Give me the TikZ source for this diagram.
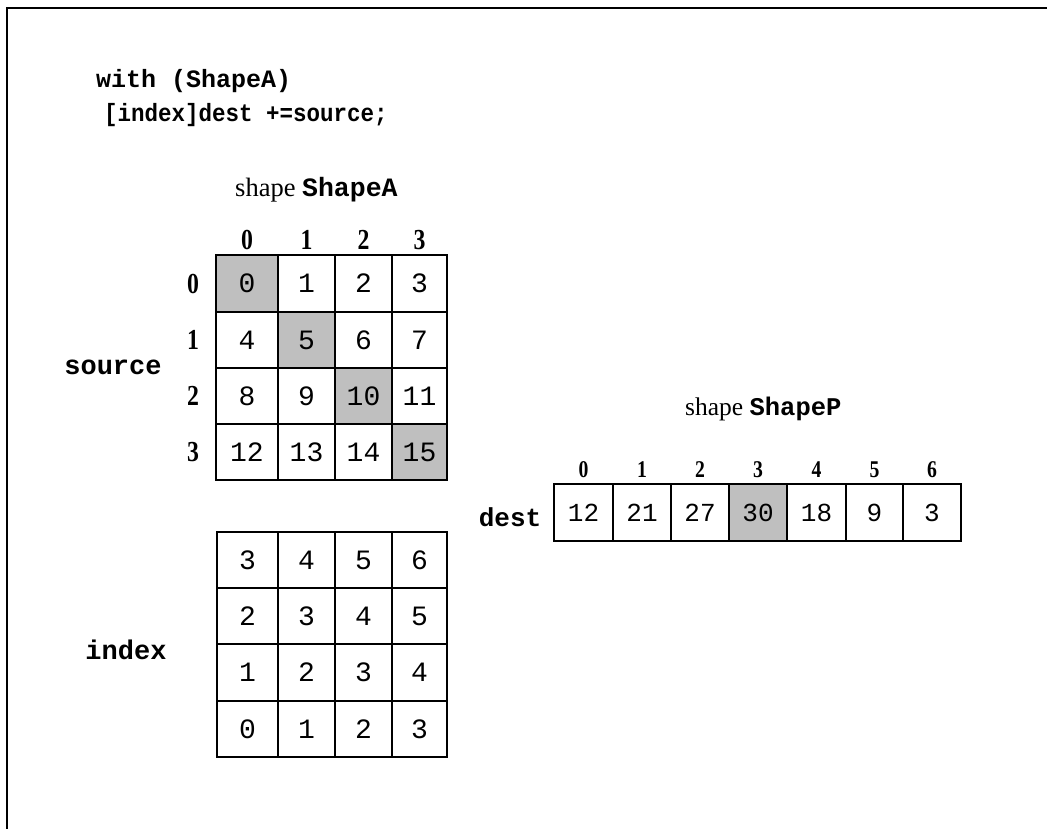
\documentclass[tikz,border=0pt]{standalone}
\usepackage{fontspec}
\setmainfont{Liberation Serif}
\setmonofont{Liberation Mono}
\newcommand{\cnd}[1]{\scalebox{0.82}[1]{#1}}
\tikzset{
  frameline/.style={line width=2pt},
  cellbase/.style={draw, line width=1.8pt, inner sep=0pt},
  cell/.style={cellbase, font=\fontsize{28}{28}\selectfont\ttfamily},
  dcell/.style={cellbase, font=\fontsize{26}{26}\selectfont\ttfamily},
  idx/.style={font=\fontsize{29}{29}\selectfont\rmfamily\bfseries, inner sep=0pt},
  didx/.style={font=\fontsize{24}{24}\selectfont\rmfamily\bfseries, inner sep=0pt},
  code/.style={font=\fontsize{25}{25}\selectfont\ttfamily\bfseries, inner sep=0pt, anchor=base west},
  lbl/.style={font=\fontsize{27}{27}\selectfont\ttfamily\bfseries, inner sep=0pt},
  ttl/.style={font=\fontsize{26.5}{26.5}\selectfont\rmfamily, inner sep=0pt, anchor=base west},
}
\begin{document}
\begin{tikzpicture}[x=1pt,y=-1pt]
\useasboundingbox (0,0) rectangle (1047,829);
\coordinate (fb) at (6.5,829);
\coordinate (fc) at (6.5,8);
\coordinate (fr) at (1047,8);
\draw[frameline] (fb) -- (fc) -- (fr);

% code
\node[code] (code1) at (96,88) {with (ShapeA)};
\node[code] (code2) at (104,122) {\scalebox{0.9}[1]{[index]dest +=source;}};

% titles
\node[ttl] (titleA) at (235,197) {shape {\ttfamily\bfseries ShapeA}};
\node[ttl, font=\fontsize{25.5}{25.5}\selectfont\rmfamily] (titleP) at (685,415) {shape {\ttfamily\bfseries ShapeP}};

% source grid
\foreach \c/\xa/\xb in {0/216/278,1/278/335,2/335/392,3/392/447}{
  \foreach \r/\ya/\yb in {0/255/312,1/312/368,2/368/424,3/424/480}{
    \pgfmathtruncatemacro\v{4*\r+\c}
    \pgfmathsetmacro\w{\xb-\xa}
    \pgfmathsetmacro\h{\yb-\ya}
    \ifnum\r=\c \def\fc{gray!50}\else\def\fc{white}\fi
    \node[cell, fill=\fc, minimum width=\w pt, minimum height=\h pt]
      (src-\r-\c) at ({(\xa+\xb)/2},{(\ya+\yb)/2}) {\v};
  }
  \node[idx, anchor=base] (srccol-\c) at ({(\xa+\xb)/2},250) {\cnd{\c}};
}
\foreach \r/\ya/\yb in {0/255/312,1/312/368,2/368/424,3/424/480}{
  \node[idx] (srcrow-\r) at (193,{(\ya+\yb)/2}) {\cnd{\r}};
}
\node[lbl] (source) at (113,367) {source};

% index grid
\foreach \c/\xa/\xb in {0/217/278,1/278/335,2/335/392,3/392/447}{
  \foreach \r/\ya/\yb in {0/532/588,1/588/644,2/644/701,3/701/757}{
    \pgfmathtruncatemacro\v{3-\r+\c}
    \pgfmathsetmacro\w{\xb-\xa}
    \pgfmathsetmacro\h{\yb-\ya}
    \node[cell, fill=white, minimum width=\w pt, minimum height=\h pt]
      (ind-\r-\c) at ({(\xa+\xb)/2},{(\ya+\yb)/2}) {\v};
  }
}
\node[lbl] (index) at (126,650) {index};

% dest array
\foreach \c/\xa/\xb/\v in {0/554/613/12,1/613/671/21,2/671/729/27,3/729/787/30,4/787/846/18,5/846/903/9,6/903/961/3}{
  \pgfmathsetmacro\w{\xb-\xa}
  \ifnum\c=3 \def\fc{gray!50}\else\def\fc{white}\fi
  \node[dcell, fill=\fc, minimum width=\w pt, minimum height=57pt]
    (dst-\c) at ({(\xa+\xb)/2},512.5) {\v};
  \node[didx, anchor=base] (dstcol-\c) at ({(\xa+\xb)/2},477) {\cnd{\c}};
}
\node[lbl, font=\fontsize{26}{26}\selectfont\ttfamily\bfseries] (dest) at (510,517) {dest};
\end{tikzpicture}
\end{document}
